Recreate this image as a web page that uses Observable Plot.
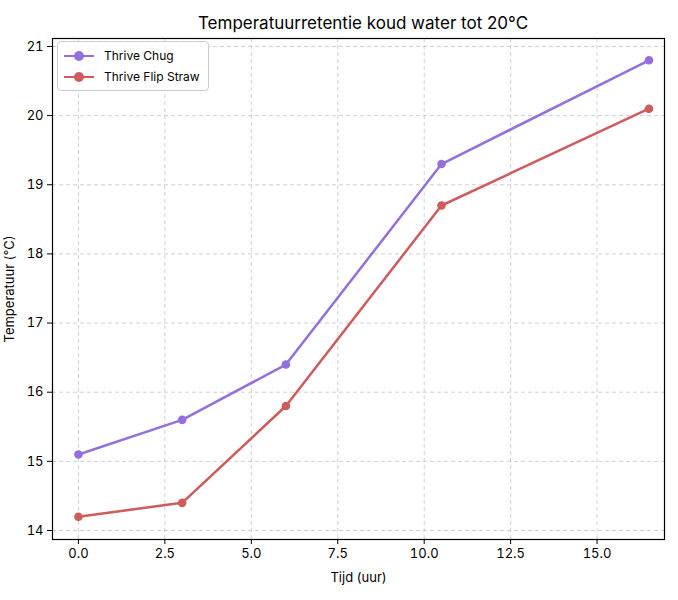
<!DOCTYPE html>
<html><head><meta charset="utf-8">
<script src="https://cdn.jsdelivr.net/npm/d3@7"></script>
<script src="https://cdn.jsdelivr.net/npm/@observablehq/plot@0.6"></script>
<style>
body{margin:0;background:#fff;font-family:Inter,"Noto Sans",sans-serif;}
#wrap{position:relative;width:678px;height:600px;}
#title{height:30px;line-height:30px;padding-top:8px;box-sizing:border-box;text-align:center;font-size:17px;color:#000;padding-left:48px;}
#legend{position:absolute;left:57px;top:41px;background:rgba(255,255,255,0.85);border:1px solid #ccc;border-radius:4px;padding:3px 8px 3px 6px;font-size:12px;color:#000;}
.li{display:flex;align-items:center;height:21px;}
.sw{position:relative;width:30px;height:10px;margin-right:10px;}
.sw .ln{position:absolute;left:0;right:0;top:4px;height:2.5px;}
.sw .dt{position:absolute;left:10px;top:0;width:10px;height:10px;border-radius:50%;}
</style></head>
<body><div id="wrap"><div id="title">Temperatuurretentie koud water tot 20°C</div><div id="chart"></div><div id="legend"></div></div>
<script>
const hours = [0, 3, 6, 10.5, 16.5];
const seriesNames = ["Thrive Chug", "Thrive Flip Straw"];
const chugValues = [15.1, 15.6, 16.4, 19.3, 20.8];
const flipValues = [14.2, 14.4, 15.8, 18.7, 20.1];
const colors = ["#9370DB", "#CD5C5C"];
const xTicks = [0, 2.5, 5, 7.5, 10, 12.5, 15];
const yTicks = [14, 15, 16, 17, 18, 19, 20, 21];

const data = [];
[chugValues, flipValues].forEach((vals, i) => vals.forEach((v, j) => data.push({series: seriesNames[i], x: hours[j], y: v})));

const chart = Plot.plot({
  width: 678, height: 570,
  marginTop: 8, marginBottom: 61, marginLeft: 52, marginRight: 14,
  style: {fontFamily: "Inter, 'Noto Sans', sans-serif", fontSize: "13px", color: "#000", background: "#fff"},
  x: {domain: [-0.75, 16.95]},
  y: {domain: [13.87, 21.115]},
  color: {domain: seriesNames, range: colors},
  marks: [
    Plot.gridX(xTicks, {stroke: "#b0b0b0", strokeOpacity: 0.6, strokeDasharray: "4,3"}),
    Plot.gridY(yTicks, {stroke: "#b0b0b0", strokeOpacity: 0.6, strokeDasharray: "4,3"}),
    Plot.axisX(xTicks, {tickSize: 5, tickPadding: 4, fontSize: 13, tickFormat: d => d.toFixed(1), label: "Tijd (uur)", labelAnchor: "center", labelArrow: "none", labelOffset: 42}),
    Plot.axisY(yTicks, {tickSize: 5, tickPadding: 4, fontSize: 13, tickFormat: d => String(d), label: "Temperatuur (°C)", labelAnchor: "center", labelArrow: "none", labelOffset: 48}),
    Plot.line(data, {x: "x", y: "y", z: "series", stroke: "series", strokeWidth: 2.5}),
    Plot.dot(data, {x: "x", y: "y", fill: "series", r: 4.3}),
    Plot.frame({stroke: "#000", strokeWidth: 1.2})
  ]
});
document.getElementById("chart").appendChild(chart);

const leg = document.getElementById("legend");
seriesNames.forEach((n, i) => {
  const d = document.createElement("div"); d.className = "li";
  d.innerHTML = `<div class="sw"><div class="ln" style="background:${colors[i]}"></div><div class="dt" style="background:${colors[i]}"></div></div><span>${n}</span>`;
  leg.appendChild(d);
});
</script></body></html>
